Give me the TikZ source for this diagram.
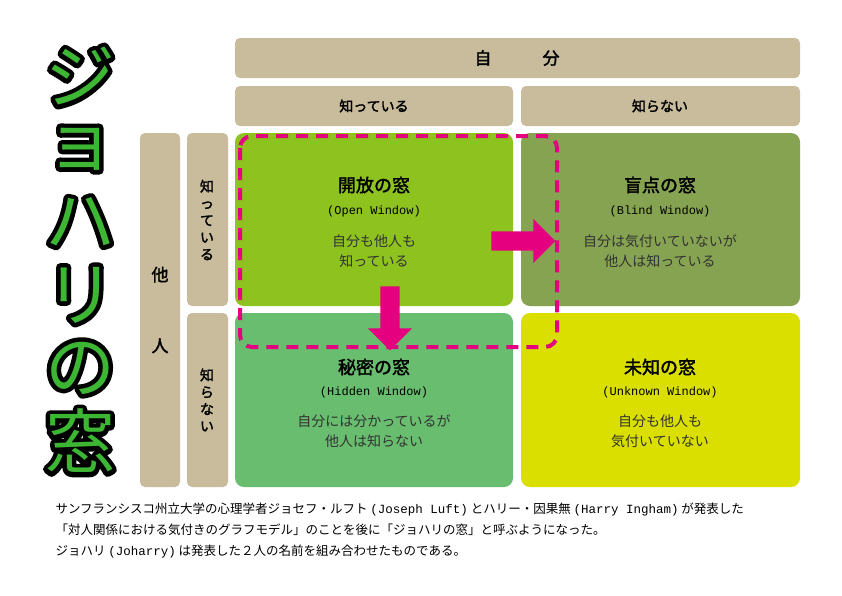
\documentclass[tikz,border=0pt]{standalone}
\usepackage{fontspec}
\setmainfont{Noto Sans CJK JP}
\newfontfamily\jpbold{Noto Sans CJK JP}[FakeBold=2]
\newfontfamily\jpplain{Noto Sans CJK JP}
\newfontfamily\jpmono{Liberation Mono}
\usetikzlibrary{shapes.arrows}
\definecolor{beige}{HTML}{C8BC9C}
\definecolor{openc}{HTML}{8DC21F}
\definecolor{blindc}{HTML}{86A351}
\definecolor{hiddenc}{HTML}{68BD6E}
\definecolor{unknownc}{HTML}{DADF00}
\definecolor{magc}{HTML}{E4007F}
\definecolor{titlec}{HTML}{3DB634}
\tikzset{
  hdrbox/.style={fill=beige, rounded corners=5pt},
  quad/.style={rounded corners=9pt},
  qtitle/.style={font=\jpbold\fontsize{18}{20}\selectfont},
  qsub/.style={font=\jpmono\fontsize{12}{14}\selectfont},
  qbody/.style={font=\fontsize{14}{20}\selectfont, align=center, text=black!80},
  bigarrow/.style={single arrow, fill=magc, minimum height=64pt, minimum width=44pt,
    single arrow head extend=12pt, inner sep=9pt, single arrow tip angle=90},
  titlechar/.style={font=\jpplain\fontsize{70}{70}\selectfont, text=titlec},
}
\newcommand{\outl}[1]{\rlap{\special{pdf:literal direct 1 Tr 9 w 1 J 1 j 0 0 0 RG}#1\special{pdf:literal direct 0 Tr}}#1}
\newcommand{\lat}[1]{{\jpmono #1}}
\begin{document}
\begin{tikzpicture}[x=1pt,y=-1pt]
\useasboundingbox[fill=white] (0,0) rectangle (842,595);
% headers
\fill[hdrbox] (235,38) rectangle (800,78);
\node[font=\jpbold\fontsize{17}{20}\selectfont] (jibun) at (517,58) {自\hspace{3em}分};
\fill[hdrbox] (235,86) rectangle (513,126);
\node[font=\jpbold\fontsize{14}{16}\selectfont] (colk) at (374,106) {知っている};
\fill[hdrbox] (521,86) rectangle (800,126);
\node[font=\jpbold\fontsize{14}{16}\selectfont] (coln) at (660,106) {知らない};
\fill[hdrbox] (140,133) rectangle (180,487);
\node[font=\jpbold\fontsize{17}{20}\selectfont, align=center] (tanin) at (160,310) {他\\[3em]人};
\fill[hdrbox] (187,133) rectangle (228,306);
\node[font=\jpbold\fontsize{14}{17}\selectfont, align=center] (rowk) at (207,220) {知\\っ\\て\\い\\る};
\fill[hdrbox] (187,313) rectangle (228,487);
\node[font=\jpbold\fontsize{14}{17}\selectfont, align=center] (rown) at (207,400) {知\\ら\\な\\い};
% quadrants
\fill[quad, openc] (235,133) rectangle (513,306);
\fill[quad, blindc] (521,133) rectangle (800,306);
\fill[quad, hiddenc] (235,313) rectangle (513,487);
\fill[quad, unknownc] (521,313) rectangle (800,487);
\node[qtitle] (open) at (374,185) {開放の窓};
\node[qsub] (opens) at (374,211) {(Open Window)};
\node[qbody] (openb) at (374,251) {自分も他人も\\知っている};
\node[qtitle] (blind) at (660,185) {盲点の窓};
\node[qsub] (blinds) at (660,211) {(Blind Window)};
\node[qbody] (blindb) at (660,251) {自分は気付いていないが\\他人は知っている};
\node[qtitle] (hidden) at (374,367) {秘密の窓};
\node[qsub] (hiddens) at (374,392) {(Hidden Window)};
\node[qbody] (hiddenb) at (374,431) {自分には分かっているが\\他人は知らない};
\node[qtitle] (unknown) at (660,367) {未知の窓};
\node[qsub] (unknowns) at (660,392) {(Unknown Window)};
\node[qbody] (unknownb) at (660,431) {自分も他人も\\気付いていない};
% dashed region and arrows
\draw[magc, line width=4pt, dash pattern=on 12pt off 8pt, rounded corners=12pt] (240,136) rectangle (557,347);
\node[bigarrow] (arrr) at (518.5,241) {};
\node[bigarrow, rotate=-90] (arrd) at (390,313.5) {};
% title
\node[titlechar] (t1) at (80,76) {\outl{ジ}};
\node[titlechar] (t2) at (80,149) {\outl{ョ}};
\node[titlechar] (t3) at (80,222) {\outl{ハ}};
\node[titlechar] (t4) at (80,295) {\outl{リ}};
\node[titlechar] (t5) at (80,368) {\outl{の}};
\node[titlechar] (t6) at (80,441) {\outl{窓}};
% footer
\node[font=\fontsize{12.5}{21}\selectfont, align=left, anchor=north west] (foot) at (52,499)
 {サンフランシスコ州立大学の心理学者ジョセフ・ルフト \lat{(Joseph Luft)} とハリー・因果無 \lat{(Harry Ingham)} が発表した\\
  「対人関係における気付きのグラフモデル」のことを後に「ジョハリの窓」と呼ぶようになった。\\
  ジョハリ \lat{(Joharry)} は発表した２人の名前を組み合わせたものである。};
\end{tikzpicture}
\end{document}
